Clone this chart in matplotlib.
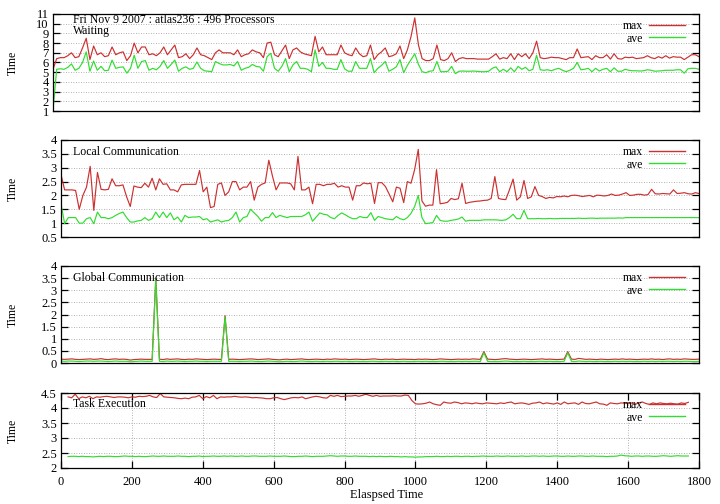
import numpy as np
import matplotlib
matplotlib.use("Agg")
import matplotlib.pyplot as plt

plt.rcParams['font.family'] = ['Liberation Serif', 'DejaVu Serif']

# sample times (s), one point every 10 s
times = np.arange(20, 1771, 10)

# Waiting
wait_max = [5.3, 6.4, 6.5, 6.5, 6.7, 7.0, 6.5, 6.6, 7.5, 8.5,
            6.3, 7.7, 6.8, 7.0, 6.6, 6.7, 7.6, 6.8, 7.0, 7.1,
            6.2, 6.7, 8.0, 7.0, 7.6, 7.6, 6.8, 6.9, 6.7, 7.0,
            7.6, 6.8, 7.3, 7.8, 6.5, 6.6, 6.9, 6.4, 6.8, 7.5,
            6.8, 6.7, 6.5, 6.3, 7.0, 7.3, 7.0, 7.0, 7.0, 6.8,
            7.3, 6.6, 6.8, 6.9, 7.3, 7.1, 7.0, 6.5, 8.0, 8.1,
            6.8, 6.6, 7.2, 7.8, 6.4, 7.3, 7.5, 7.1, 6.9, 6.8,
            6.7, 8.7, 7.1, 7.6, 6.8, 6.8, 6.8, 6.8, 7.8, 7.0,
            6.8, 6.7, 7.5, 6.9, 6.6, 6.7, 7.8, 6.3, 6.8, 7.1,
            7.5, 6.6, 6.7, 6.9, 7.7, 6.4, 7.3, 8.7, 10.6, 7.8,
            6.4, 6.2, 6.2, 6.4, 7.8, 6.3, 6.2, 6.4, 7.0, 6.1,
            6.4, 6.5, 6.4, 6.4, 6.4, 6.35, 6.35, 6.35, 6.35, 6.6,
            6.9, 6.35, 6.5, 6.4, 6.9, 6.3, 6.9, 6.6, 6.9, 6.4,
            7.0, 8.2, 6.5, 6.4, 6.45, 6.55, 6.5, 6.5, 6.4, 6.3,
            6.5, 6.5, 7.4, 6.5, 6.55, 6.6, 6.3, 6.7, 6.5, 6.5,
            6.8, 6.35, 6.9, 6.4, 6.35, 6.55, 6.5, 6.55, 6.4, 6.45,
            6.5, 6.7, 6.5, 6.4, 6.6, 6.45, 6.7, 6.45, 6.6, 6.55,
            6.55, 6.3, 6.55, 6.8, 6.8, 6.6]
wait_ave = [1.1, 5.3, 5.35, 5.3, 5.5, 5.85, 5.2, 5.4, 6.0, 7.1,
            5.1, 6.15, 5.2, 5.6, 5.15, 5.2, 6.25, 5.4, 5.5, 5.55,
            4.9, 5.4, 6.75, 5.4, 6.1, 6.2, 5.2, 5.4, 5.25, 5.6,
            6.2, 5.4, 5.8, 6.25, 5.1, 5.4, 5.55, 5.3, 5.4, 6.05,
            5.4, 5.15, 5.1, 5.05, 6.1, 5.9, 5.75, 5.75, 5.8, 5.65,
            6.1, 5.2, 5.4, 5.5, 5.8, 5.6, 5.55, 5.1, 6.6, 6.95,
            5.4, 5.1, 5.6, 6.4, 5.05, 5.75, 6.1, 5.4, 5.4, 5.3,
            5.05, 7.3, 5.6, 6.0, 5.4, 5.4, 5.3, 5.3, 6.3, 5.35,
            5.1, 5.1, 6.1, 5.4, 5.4, 5.4, 6.4, 4.95, 5.4, 5.7,
            6.1, 5.1, 5.3, 5.55, 6.3, 4.95, 5.7, 6.3, 6.9, 5.8,
            5.05, 4.95, 5.1, 5.15, 6.1, 5.05, 5.05, 5.1, 5.6, 4.85,
            5.1, 5.12, 5.1, 5.1, 5.12, 5.08, 5.05, 5.05, 5.1, 5.4,
            5.55, 5.05, 5.3, 5.05, 5.45, 5.05, 5.6, 5.3, 5.5, 5.15,
            5.3, 6.75, 5.25, 5.2, 5.25, 5.15, 5.3, 5.4, 5.2, 5.05,
            5.2, 5.4, 6.0, 5.25, 5.3, 5.4, 5.05, 5.4, 5.12, 5.3,
            5.4, 5.05, 5.45, 5.1, 5.1, 5.3, 5.2, 5.15, 5.15, 5.12,
            5.15, 5.25, 5.2, 5.1, 5.12, 5.15, 5.2, 5.2, 5.2, 5.25,
            5.25, 4.9, 5.35, 5.4, 5.4, 5.3]

# Local Communication
local_max = [2.75, 2.2, 2.2, 2.2, 2.18, 1.5, 2.0, 2.3, 3.05, 1.46,
             2.83, 2.22, 2.2, 2.22, 2.6, 2.35, 2.35, 2.38, 1.95, 1.6,
             2.34, 2.3, 2.28, 2.44, 2.3, 2.62, 2.2, 2.6, 2.4, 2.42,
             2.2, 2.2, 2.13, 2.38, 2.4, 2.4, 2.4, 2.4, 2.9, 2.13,
             2.3, 1.56, 1.6, 2.4, 2.45, 2.0, 2.13, 2.5, 2.5, 2.2,
             2.3, 2.3, 2.5, 1.83, 2.3, 2.4, 2.45, 3.27, 2.7, 2.2,
             2.45, 2.45, 2.45, 2.42, 2.2, 3.41, 2.2, 2.2, 2.3, 1.7,
             2.4, 2.4, 2.35, 2.4, 2.4, 2.44, 2.3, 2.35, 2.3, 2.3,
             1.83, 2.35, 2.35, 2.45, 2.42, 2.44, 1.71, 2.46, 2.46, 2.32,
             2.05, 1.77, 2.3, 2.26, 1.74, 2.5, 2.44, 2.93, 3.66, 1.8,
             1.61, 1.65, 1.65, 2.93, 1.7, 1.72, 1.75, 1.89, 1.85, 1.88,
             2.44, 1.71, 1.75, 1.77, 1.79, 1.8, 1.82, 1.83, 1.89, 2.68,
             1.89, 1.86, 1.85, 2.2, 2.59, 1.83, 1.95, 2.54, 1.89, 1.95,
             2.32, 2.0, 1.96, 1.89, 1.93, 1.91, 1.96, 1.95, 1.98, 1.95,
             2.0, 2.01, 1.99, 1.96, 1.98, 2.0, 1.95, 2.01, 2.0, 1.98,
             2.0, 2.05, 2.0, 2.01, 2.05, 2.1, 2.0, 2.01, 2.04, 2.04,
             2.01, 2.03, 2.22, 2.06, 2.05, 2.07, 2.06, 2.05, 2.2, 2.07,
             2.08, 2.1, 2.06, 2.05, 2.1, 2.07]
local_ave = [1.7, 0.98, 1.2, 1.2, 1.2, 1.0, 1.0, 1.16, 1.2, 0.98,
             1.4, 1.2, 1.2, 1.16, 1.2, 1.28, 1.35, 1.4, 1.2, 1.04,
             1.04, 1.08, 1.1, 1.2, 1.1, 1.16, 1.4, 1.2, 1.4, 1.2,
             1.37, 1.12, 1.22, 1.04, 1.28, 1.2, 1.22, 1.22, 1.24, 1.12,
             1.16, 1.04, 1.08, 1.12, 1.04, 1.08, 1.1, 1.2, 1.4, 1.04,
             1.2, 1.24, 1.5, 1.37, 1.24, 1.07, 1.2, 1.2, 1.38, 1.2,
             1.28, 1.24, 1.2, 1.24, 1.24, 1.24, 1.24, 1.3, 1.4, 1.07,
             1.22, 1.37, 1.32, 1.3, 1.2, 1.16, 1.28, 1.37, 1.3, 1.22,
             1.16, 1.16, 1.24, 1.2, 1.2, 1.38, 1.1, 1.24, 1.2, 1.16,
             1.14, 1.12, 1.24, 1.16, 1.12, 1.2, 1.35, 1.6, 2.0, 1.2,
             0.98, 1.0, 1.02, 1.28, 1.1, 1.07, 1.07, 1.1, 1.12, 1.15,
             1.22, 1.07, 1.1, 1.1, 1.1, 1.1, 1.12, 1.12, 1.12, 1.12,
             1.11, 1.1, 1.12, 1.2, 1.32, 1.16, 1.16, 1.46, 1.16, 1.16,
             1.16, 1.17, 1.16, 1.16, 1.17, 1.16, 1.16, 1.17, 1.17, 1.17,
             1.17, 1.17, 1.18, 1.17, 1.17, 1.18, 1.18, 1.17, 1.18, 1.18,
             1.18, 1.18, 1.18, 1.19, 1.18, 1.2, 1.2, 1.2, 1.2, 1.2,
             1.2, 1.2, 1.2, 1.2, 1.2, 1.2, 1.2, 1.2, 1.2, 1.2,
             1.2, 1.2, 1.2, 1.2, 1.2, 1.2]

# Global Communication
global_max = [0.16, 0.15, 0.16, 0.17, 0.15, 0.14, 0.15, 0.16, 0.17, 0.15,
              0.16, 0.18, 0.15, 0.14, 0.16, 0.17, 0.15, 0.16, 0.15, 0.12,
              0.14, 0.15, 0.16, 0.15, 0.15, 0.15, 3.5, 0.16, 0.14, 0.17,
              0.15, 0.16, 0.17, 0.15, 0.14, 0.16, 0.15, 0.17, 0.16, 0.15,
              0.14, 0.15, 0.16, 0.15, 0.15, 1.95, 0.15, 0.16, 0.15, 0.14,
              0.15, 0.16, 0.17, 0.16, 0.14, 0.15, 0.16, 0.17, 0.15, 0.14,
              0.13, 0.15, 0.16, 0.14, 0.15, 0.16, 0.17, 0.15, 0.14, 0.15,
              0.16, 0.15, 0.14, 0.16, 0.15, 0.17, 0.16, 0.15, 0.16, 0.14,
              0.15, 0.16, 0.15, 0.14, 0.15, 0.16, 0.17, 0.15, 0.14, 0.16,
              0.15, 0.16, 0.14, 0.15, 0.16, 0.15, 0.15, 0.14, 0.16, 0.15,
              0.16, 0.15, 0.14, 0.15, 0.17, 0.16, 0.15, 0.14, 0.15, 0.16,
              0.15, 0.16, 0.15, 0.17, 0.16, 0.15, 0.47, 0.16, 0.15, 0.14,
              0.15, 0.17, 0.18, 0.16, 0.15, 0.14, 0.15, 0.16, 0.15, 0.14,
              0.15, 0.16, 0.17, 0.15, 0.16, 0.15, 0.14, 0.15, 0.16, 0.47,
              0.16, 0.15, 0.19, 0.17, 0.15, 0.16, 0.15, 0.14, 0.16, 0.15,
              0.14, 0.15, 0.16, 0.15, 0.17, 0.15, 0.16, 0.15, 0.14, 0.15,
              0.16, 0.15, 0.17, 0.15, 0.16, 0.14, 0.16, 0.17, 0.15, 0.16,
              0.15, 0.17, 0.16, 0.15, 0.15, 0.16]
global_ave = [0.08, 0.07, 0.08, 0.08, 0.07, 0.06, 0.07, 0.08, 0.08, 0.07,
              0.08, 0.08, 0.07, 0.06, 0.07, 0.08, 0.07, 0.07, 0.07, 0.05,
              0.06, 0.07, 0.08, 0.07, 0.07, 0.07, 3.45, 0.07, 0.06, 0.08,
              0.07, 0.07, 0.08, 0.07, 0.06, 0.07, 0.07, 0.08, 0.07, 0.07,
              0.06, 0.07, 0.07, 0.07, 0.07, 1.9, 0.07, 0.07, 0.07, 0.06,
              0.07, 0.07, 0.08, 0.07, 0.06, 0.06, 0.07, 0.08, 0.07, 0.06,
              0.05, 0.06, 0.07, 0.06, 0.06, 0.07, 0.08, 0.07, 0.06, 0.06,
              0.07, 0.06, 0.06, 0.07, 0.06, 0.07, 0.07, 0.06, 0.07, 0.06,
              0.06, 0.07, 0.06, 0.06, 0.06, 0.07, 0.07, 0.06, 0.06, 0.07,
              0.06, 0.07, 0.06, 0.06, 0.07, 0.06, 0.06, 0.06, 0.07, 0.06,
              0.07, 0.06, 0.06, 0.06, 0.07, 0.07, 0.06, 0.06, 0.06, 0.07,
              0.06, 0.07, 0.06, 0.07, 0.07, 0.06, 0.42, 0.07, 0.06, 0.06,
              0.06, 0.07, 0.08, 0.07, 0.06, 0.06, 0.06, 0.07, 0.06, 0.06,
              0.06, 0.07, 0.07, 0.06, 0.07, 0.06, 0.06, 0.06, 0.07, 0.42,
              0.07, 0.06, 0.08, 0.07, 0.06, 0.07, 0.06, 0.06, 0.07, 0.06,
              0.06, 0.06, 0.07, 0.06, 0.07, 0.06, 0.07, 0.06, 0.06, 0.06,
              0.07, 0.06, 0.07, 0.06, 0.07, 0.06, 0.07, 0.07, 0.06, 0.07,
              0.06, 0.07, 0.07, 0.06, 0.06, 0.07]

# Task Execution
task_max = [4.37, 4.34, 4.46, 4.31, 4.37, 4.34, 4.39, 4.31, 4.37, 4.36,
            4.38, 4.39, 4.37, 4.35, 4.37, 4.37, 4.36, 4.34, 4.37, 4.36,
            4.39, 4.38, 4.39, 4.42, 4.37, 4.35, 4.48, 4.37, 4.36, 4.35,
            4.34, 4.32, 4.31, 4.33, 4.31, 4.36, 4.37, 4.42, 4.31, 4.38,
            4.34, 4.42, 4.31, 4.37, 4.36, 4.37, 4.37, 4.39, 4.37, 4.36,
            4.37, 4.36, 4.34, 4.35, 4.34, 4.33, 4.31, 4.31, 4.34, 4.35,
            4.31, 4.28, 4.31, 4.34, 4.35, 4.34, 4.37, 4.31, 4.34, 4.37,
            4.39, 4.37, 4.34, 4.33, 4.42, 4.39, 4.42, 4.38, 4.39, 4.4,
            4.4, 4.42, 4.39, 4.42, 4.46, 4.42, 4.39, 4.42, 4.39, 4.4,
            4.4, 4.4, 4.41, 4.4, 4.4, 4.43, 4.42, 4.25, 4.14, 4.13,
            4.14, 4.16, 4.2, 4.14, 4.11, 4.09, 4.2, 4.17, 4.16, 4.2,
            4.18, 4.14, 4.17, 4.16, 4.14, 4.17, 4.15, 4.14, 4.17, 4.16,
            4.15, 4.14, 4.17, 4.15, 4.18, 4.2, 4.14, 4.16, 4.17, 4.15,
            4.12, 4.16, 4.17, 4.2, 4.14, 4.17, 4.15, 4.13, 4.17, 4.12,
            4.2, 4.14, 4.16, 4.17, 4.12, 4.2, 4.15, 4.14, 4.17, 4.2,
            4.14, 4.13, 4.09, 4.17, 4.15, 4.14, 4.17, 4.16, 4.14, 4.17,
            4.12, 4.17, 4.2, 4.15, 4.12, 4.17, 4.14, 4.17, 4.15, 4.14,
            4.16, 4.14, 4.13, 4.17, 4.15, 4.19]
task_ave = [2.38, 2.39, 2.39, 2.38, 2.39, 2.38, 2.38, 2.37, 2.38, 2.39,
            2.38, 2.39, 2.39, 2.38, 2.38, 2.39, 2.4, 2.39, 2.39, 2.38,
            2.39, 2.38, 2.38, 2.39, 2.4, 2.39, 2.39, 2.4, 2.39, 2.39,
            2.39, 2.4, 2.39, 2.39, 2.38, 2.39, 2.39, 2.4, 2.38, 2.39,
            2.39, 2.4, 2.39, 2.39, 2.4, 2.39, 2.4, 2.39, 2.39, 2.4,
            2.39, 2.39, 2.4, 2.4, 2.39, 2.39, 2.39, 2.4, 2.39, 2.39,
            2.39, 2.4, 2.39, 2.38, 2.38, 2.39, 2.39, 2.4, 2.39, 2.38,
            2.39, 2.39, 2.39, 2.4, 2.41, 2.4, 2.39, 2.4, 2.4, 2.39,
            2.39, 2.4, 2.39, 2.39, 2.39, 2.38, 2.39, 2.38, 2.39, 2.38,
            2.38, 2.39, 2.38, 2.38, 2.37, 2.38, 2.37, 2.37, 2.36, 2.37,
            2.37, 2.38, 2.38, 2.38, 2.39, 2.38, 2.38, 2.39, 2.38, 2.39,
            2.39, 2.38, 2.39, 2.39, 2.38, 2.39, 2.39, 2.4, 2.39, 2.39,
            2.39, 2.4, 2.39, 2.39, 2.4, 2.39, 2.39, 2.39, 2.4, 2.39,
            2.39, 2.4, 2.4, 2.39, 2.4, 2.39, 2.39, 2.4, 2.4, 2.39,
            2.39, 2.4, 2.39, 2.39, 2.4, 2.4, 2.39, 2.39, 2.4, 2.39,
            2.39, 2.39, 2.38, 2.39, 2.39, 2.4, 2.43, 2.41, 2.4, 2.39,
            2.4, 2.4, 2.39, 2.4, 2.4, 2.39, 2.39, 2.4, 2.41, 2.4,
            2.39, 2.4, 2.41, 2.4, 2.4, 2.4]

titles = ["Waiting", "Local Communication", "Global Communication", "Task Execution"]
ylims = [(1, 11), (0.5, 4), (0, 4), (2, 4.5)]
ysteps = [1, 0.5, 0.5, 0.5]

RED = '#cc3030'
GREEN = '#30dd30'
W, H = 720, 504
# (left, top, bottom) of each panel in pixels
boxes = [(53, 14, 111), (61, 140, 237), (61, 266, 363), (61, 393, 468)]
text_y = [31, 152, 278, 404]

fig = plt.figure(figsize=(7.2, 5.04), dpi=100)
series = [(wait_max, wait_ave), (local_max, local_ave),
          (global_max, global_ave), (task_max, task_ave)]

for i, (mx, av) in enumerate(series):
    l, t, b = boxes[i]
    wpx, hpx = 699 - l, b - t
    ax = fig.add_axes([l / W, 1 - b / H, wpx / W, hpx / H])
    ax.plot(times, mx, color=RED, lw=0.85, label='max')
    ax.plot(times, av, color=GREEN, lw=0.85, label='ave')
    lo, hi = ylims[i]
    ax.set_ylim(lo, hi)
    ax.set_yticks(np.arange(lo, hi + 0.001, ysteps[i]))
    ax.yaxis.set_major_formatter(matplotlib.ticker.FormatStrFormatter('%g'))
    ax.grid(axis='y', linestyle=(0, (1, 2)), color='#999999', lw=0.6)
    for s in ax.spines.values():
        s.set_linewidth(0.9)
    if i < 3:
        ax.set_xlim(times[0], times[-1])
        ax.tick_params(axis='x', bottom=False, labelbottom=False)
    else:
        ax.set_xlim(0, 1800)
        ax.set_xticks(np.arange(0, 1801, 200))
        ax.grid(axis='x', linestyle=(0, (1, 2)), color='#999999', lw=0.6)
        ax.tick_params(axis='x', top=True, direction='in', length=5, width=0.9,
                       labelsize=9, pad=6)
        ax.set_xlabel('Elaspsed Time', fontsize=9, labelpad=2)
        ax.xaxis.set_label_coords((387 - l) / wpx, -(495 - b) / hpx)
        ax.xaxis.label.set_va('center')
    ax.tick_params(axis='y', right=True, direction='in', length=5, width=0.9,
                   labelsize=9, pad=3)
    ax.set_ylabel('Time', fontsize=8.5)
    ax.yaxis.set_label_coords(-(l - 19) / wpx, 0.5)
    leg = ax.legend(loc='upper right', bbox_to_anchor=(1 - 14 / wpx, 1 - 6 / hpx),
                    frameon=False, markerfirst=False, handlelength=3.05,
                    handletextpad=0.5, labelspacing=0.05, borderpad=0,
                    borderaxespad=0, fontsize=8.5)
    for h, c in zip(leg.get_lines(), [RED, GREEN]):
        h.set_color(c)
        h.set_linewidth(1.0)
    fig.text(73 / W, 1 - text_y[i] / H, titles[i], fontsize=8.5, va='center')

fig.text(73 / W, 1 - 20 / H, 'Fri Nov 9 2007 : atlas236 : 496 Processors',
         fontsize=8.5, va='center')

fig.savefig('out.png', dpi=100)
